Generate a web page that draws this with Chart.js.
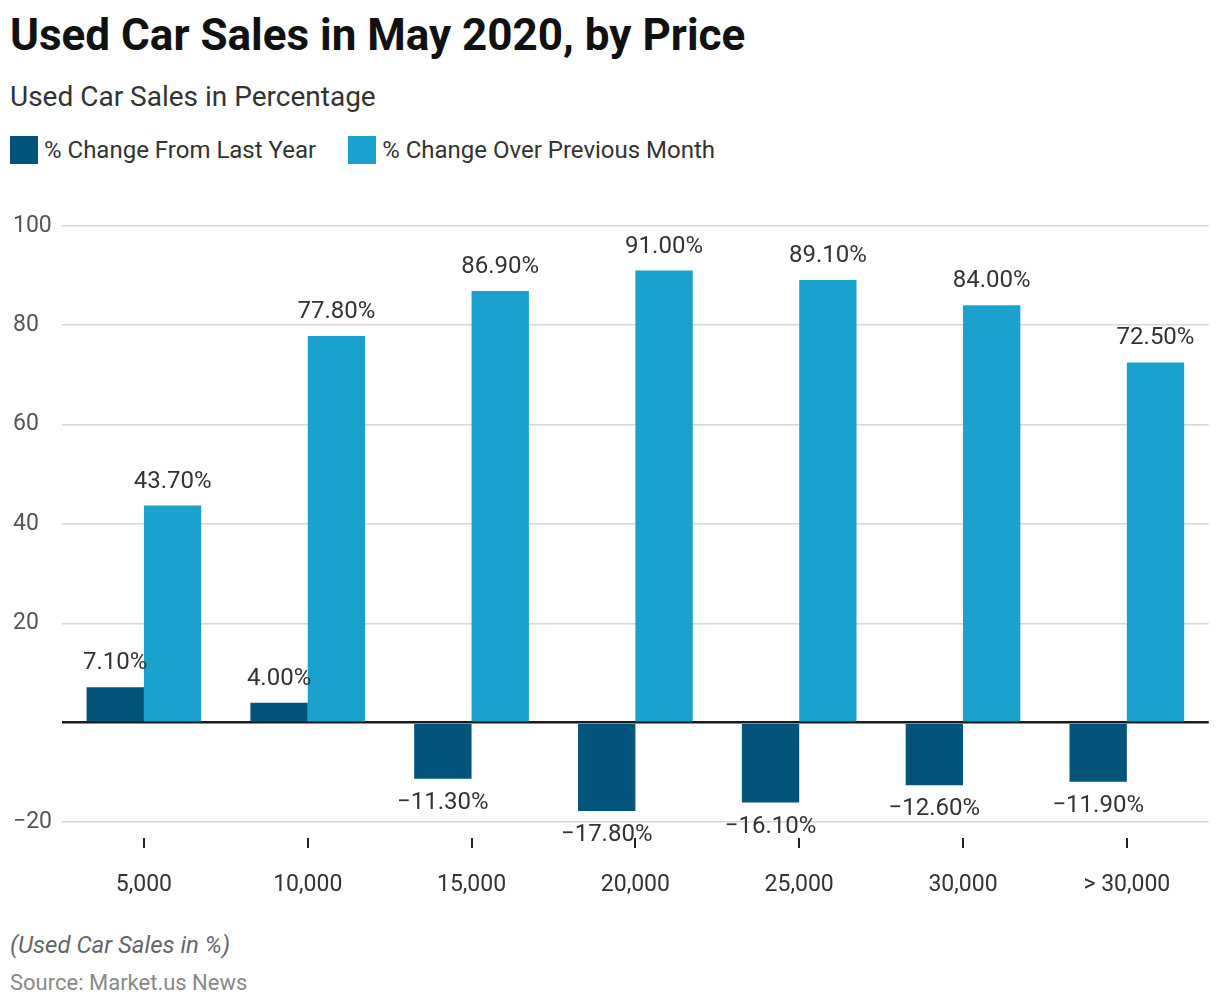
<!DOCTYPE html>
<html>
<head>
<meta charset="utf-8">
<script src="https://cdn.jsdelivr.net/npm/chart.js@4.4.1/dist/chart.umd.min.js"></script>
<style>
  body { margin: 0; background: #fff; font-family: Roboto, "Noto Sans", sans-serif; color: #222; }
  #wrap { position: relative; width: 1220px; height: 1008px; overflow: hidden; }
  .title { position: absolute; left: 10px; top: 8px; font-size: 44px; font-weight: 700; color: #111; line-height: 54px; }
  .sub { position: absolute; left: 10px; top: 79px; font-size: 28px; color: #333; line-height: 36px; }
  .legend { position: absolute; left: 10px; top: 136px; display: flex; align-items: center; font-size: 24px; color: #333; }
  .legend .sw { width: 28px; height: 28px; margin-right: 6px; }
  .legend .it { display: flex; align-items: center; margin-right: 32px; }
  .note { position: absolute; left: 10px; top: 931px; font-size: 24px; font-style: italic; color: #666; }
  .src { position: absolute; left: 10px; top: 970px; font-size: 22px; color: #888; }
  #cv { position: absolute; left: 0; top: 200px; }
</style>
</head>
<body>
<div id="wrap">
  <div class="title">Used Car Sales in May 2020, by Price</div>
  <div class="sub">Used Car Sales in Percentage</div>
  <div class="legend">
    <div class="it"><div class="sw" style="background:#02547b"></div>% Change From Last Year</div>
    <div class="it"><div class="sw" style="background:#1aa1ce"></div>% Change Over Previous Month</div>
  </div>
  <canvas id="cv" width="1220" height="711"></canvas>
  <div class="note">(Used Car Sales in %)</div>
  <div class="src">Source: Market.us News</div>
</div>
<script>
const categories = ['5,000', '10,000', '15,000', '20,000', '25,000', '30,000', '> 30,000'];
const fromLastYear = [7.1, 4.0, -11.3, -17.8, -16.1, -12.6, -11.9];
const overPrevMonth = [43.7, 77.8, 86.9, 91.0, 89.1, 84.0, 72.5];
const yTicks = [-20, 0, 20, 40, 60, 80, 100];

const fmt = v => (v < 0 ? '\u2212' : '') + Math.abs(v).toFixed(2) + '%';

// value labels above / below each bar
const barLabels = {
  id: 'barLabels',
  afterDatasetsDraw(chart) {
    const ctx = chart.ctx;
    ctx.save();
    ctx.font = '24px Roboto, "Noto Sans", sans-serif';
    ctx.fillStyle = '#333';
    ctx.textAlign = 'center';
    ctx.textBaseline = 'middle';
    chart.data.datasets.forEach((ds, i) => {
      chart.getDatasetMeta(i).data.forEach((bar, j) => {
        const v = ds.data[j];
        const y = v >= 0 ? bar.y - 24 : bar.y + 24;
        ctx.fillText(fmt(v), bar.x, y);
      });
    });
    ctx.restore();
  }
};

// small tick marks under the plot at each category
const catTicks = {
  id: 'catTicks',
  afterDraw(chart) {
    const ctx = chart.ctx, x = chart.scales.x, b = chart.chartArea.bottom;
    ctx.save();
    ctx.strokeStyle = '#222';
    ctx.lineWidth = 2;
    categories.forEach((c, i) => {
      const px = Math.round(x.getPixelForValue(i));
      ctx.beginPath();
      ctx.moveTo(px, b + 16);
      ctx.lineTo(px, b + 26);
      ctx.stroke();
    });
    ctx.restore();
  }
};

new Chart(document.getElementById('cv'), {
  type: 'bar',
  data: {
    labels: categories,
    datasets: [
      { label: '% Change From Last Year', data: fromLastYear, backgroundColor: '#02547b' },
      { label: '% Change Over Previous Month', data: overPrevMonth, backgroundColor: '#1aa1ce' }
    ]
  },
  options: {
    responsive: false,
    animation: false,
    layout: { padding: { left: 13, right: 10, top: 22, bottom: 0 } },
    plugins: { legend: { display: false }, tooltip: { enabled: false } },
    datasets: { bar: { barPercentage: 1, categoryPercentage: 0.7 } },
    scales: {
      x: {
        grid: { display: false, drawTicks: false },
        border: { display: false },
        ticks: { padding: 49, color: '#333', font: { family: 'Roboto', size: 23 } },
        afterFit: s => { s.height = 89; }
      },
      y: {
        min: -20, max: 100,
        afterBuildTicks: s => { s.ticks = yTicks.map(v => ({ value: v })); },
        grid: {
          color: c => c.tick && c.tick.value === 0 ? '#1a1a1a' : '#d6d6d6',
          lineWidth: c => c.tick && c.tick.value === 0 ? 2.5 : 1.5,
          drawTicks: false
        },
        border: { display: false },
        ticks: {
          crossAlign: 'far', padding: 12, color: '#555',
          font: { family: 'Roboto', size: 23 },
          callback: v => v === 0 ? '' : (v < 0 ? '\u2212' + Math.abs(v) : String(v))
        },
        afterFit: s => { s.width = 49; }
      }
    }
  },
  plugins: [barLabels, catTicks]
});
</script>
</body>
</html>
